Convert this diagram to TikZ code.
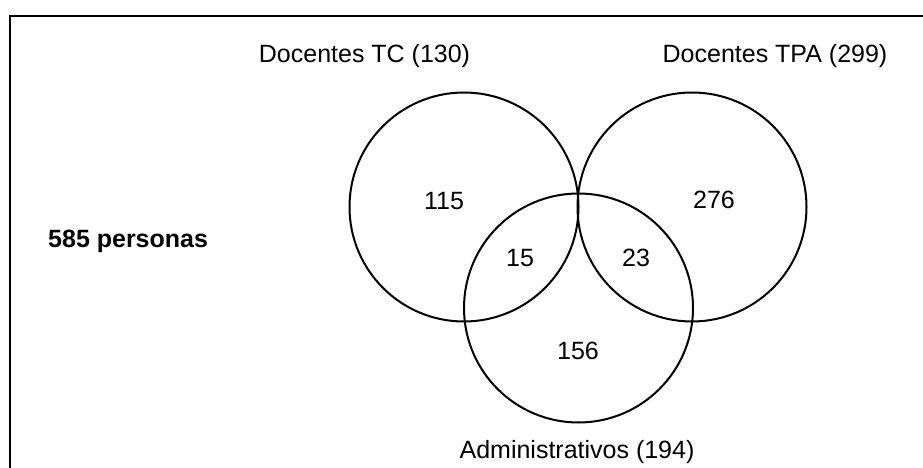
\documentclass[tikz,border=0pt]{standalone}
\usepackage{fontspec}
\setmainfont{Liberation Sans}
\begin{document}
\begin{tikzpicture}[x=1pt,y=-1pt,
  setcircle/.style={circle,draw=black,line width=2pt,inner sep=0pt,minimum size=229pt},
  label/.style={anchor=base,inner sep=0pt,font=\fontsize{25}{30}\selectfont},
  count/.style={anchor=base,inner sep=0pt,font=\fontsize{25}{30}\selectfont}]
  \useasboundingbox (0,0) rectangle (923,468);
  % outer frame (runs past the right and bottom edges)
  \draw[line width=2.2pt] (10,16) rectangle (940,490);
  % sets
  \node[setcircle] (tc)  at (464,207) {};
  \node[setcircle] (tpa) at (692,207) {};
  \node[setcircle] (adm) at (578.5,308) {};
  % set titles
  \node[label] (ltc)  at (364.5,63) {Docentes TC (130)};
  \node[label] (ltpa) at (775,63) {Docentes TPA (299)};
  \node[label] (ladm) at (577,458) {Administrativos (194)};
  \node[label,anchor=base west,font=\fontsize{25}{30}\selectfont\bfseries] (tot) at (48,247) {585 personas};
  % region counts
  \node[count] (n115) at (444,209) {115};
  \node[count] (n276) at (714,208) {276};
  \node[count] (n15)  at (520,266) {15};
  \node[count] (n23)  at (636,266) {23};
  \node[count] (n156) at (578,359) {156};
\end{tikzpicture}
\end{document}
